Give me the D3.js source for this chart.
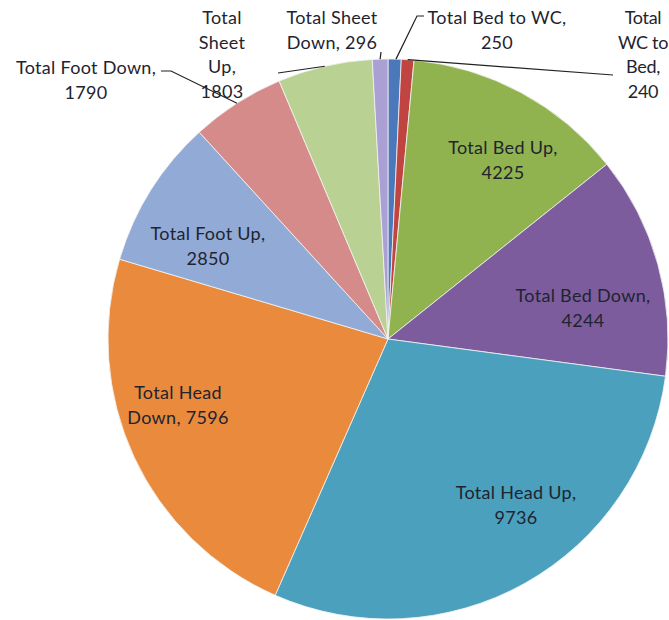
<!DOCTYPE html>
<html>
<head>
<meta charset="utf-8">
<script src="https://cdn.jsdelivr.net/npm/d3@7.9.0/dist/d3.min.js"></script>
<style>
  body { margin: 0; background: #fff; }
  svg text { font-family: Lato, "Open Sans", sans-serif; font-size: 18px; letter-spacing: 0.3px; fill: #1e2430; }
  svg text.tight { letter-spacing: -0.3px; }
</style>
</head>
<body>
<svg width="669" height="620"></svg>
<script>
// ---- data (Excel order, clockwise from 12 o'clock) ----
const categories = ["Total Bed to WC", "Total WC to Bed", "Total Bed Up", "Total Bed Down",
  "Total Head Up", "Total Head Down", "Total Foot Up", "Total Foot Down", "Total Sheet Up", "Total Sheet Down"];
const values = [250, 240, 4225, 4244, 9736, 7596, 2850, 1790, 1803, 296];
const colors = ["#4a78bb", "#c0443f", "#91b34f", "#7d5c9d", "#4aa0bd", "#e98a3c",
  "#92aad6", "#d68b8b", "#b9d293", "#aaa0d4"];

// label text wrapping like the excel chart
const labelLines = [
  ["Total Bed to WC,", "250"],
  ["Total", "WC to", "Bed,", "240"],
  ["Total Bed Up,", "4225"],
  ["Total Bed Down,", "4244"],
  ["Total Head Up,", "9736"],
  ["Total Head", "Down, 7596"],
  ["Total Foot Up,", "2850"],
  ["Total Foot Down,", "1790"],
  ["Total", "Sheet", "Up,", "1803"],
  ["Total Sheet", "Down, 296"],
];

// ---- layout ----
const cx = 388, cy = 339, radius = 280, lineH = 24.5;
// label anchor: [center x, first line center y]
const labelPos = [[497, 18], [643, 18], [503, 148], [583, 296], [516, 493],
  [178, 393], [208, 234], [86, 68], [222, 18], [332, 18]];
// leader lines: slice index, fraction inside slice, then elbow points toward the label
const leaders = [
  { i: 0, t: 0.6, pts: [[417, 16], [424, 16]] },
  { i: 1, t: 0.5, pts: [[613, 75]] },
  { i: 7, t: 0.5, pts: [[171, 71], [161, 71]] },
  { i: 8, t: 0.5, pts: [[278, 73]] },
  { i: 9, t: 0.5, pts: [[381, 52]] },
];

let svg = d3.select("svg");
let g = svg.append("g").attr("transform", `translate(${cx},${cy})`);

let data = categories.map((c, i) => ({ label: c, value: values[i] }));
let pie = d3.pie().value((d) => d.value).sort(null).startAngle(0).endAngle(2 * Math.PI);
let arcData = pie(data);
let arcGen = d3.arc().innerRadius(0).outerRadius(radius);

g.selectAll("path")
  .data(arcData)
  .join("path")
  .attr("d", arcGen)
  .attr("fill", (d, i) => colors[i])
  .attr("stroke", "#f4f4f4")
  .attr("stroke-width", 0.8);

// leader lines
leaders.forEach((l) => {
  let a = arcData[l.i];
  let ang = a.startAngle + (a.endAngle - a.startAngle) * l.t;
  let start = [cx + radius * Math.sin(ang), cy - radius * Math.cos(ang)];
  svg.append("path")
    .attr("d", d3.line()([start, ...l.pts]))
    .attr("fill", "none")
    .attr("stroke", "#222")
    .attr("stroke-width", 1.2);
});

// labels
labelLines.forEach((lines, i) => {
  let t = svg.append("text")
    .attr("class", i === 1 ? "tight" : null) // right edge label, squeezed like excel
    .attr("text-anchor", "middle")
    .attr("x", labelPos[i][0])
    .attr("y", labelPos[i][1]);
  lines.forEach((s, k) => {
    t.append("tspan")
      .attr("x", labelPos[i][0])
      .attr("y", labelPos[i][1] + k * lineH)
      .attr("dy", "0.35em")
      .text(s);
  });
});
</script>
</body>
</html>
